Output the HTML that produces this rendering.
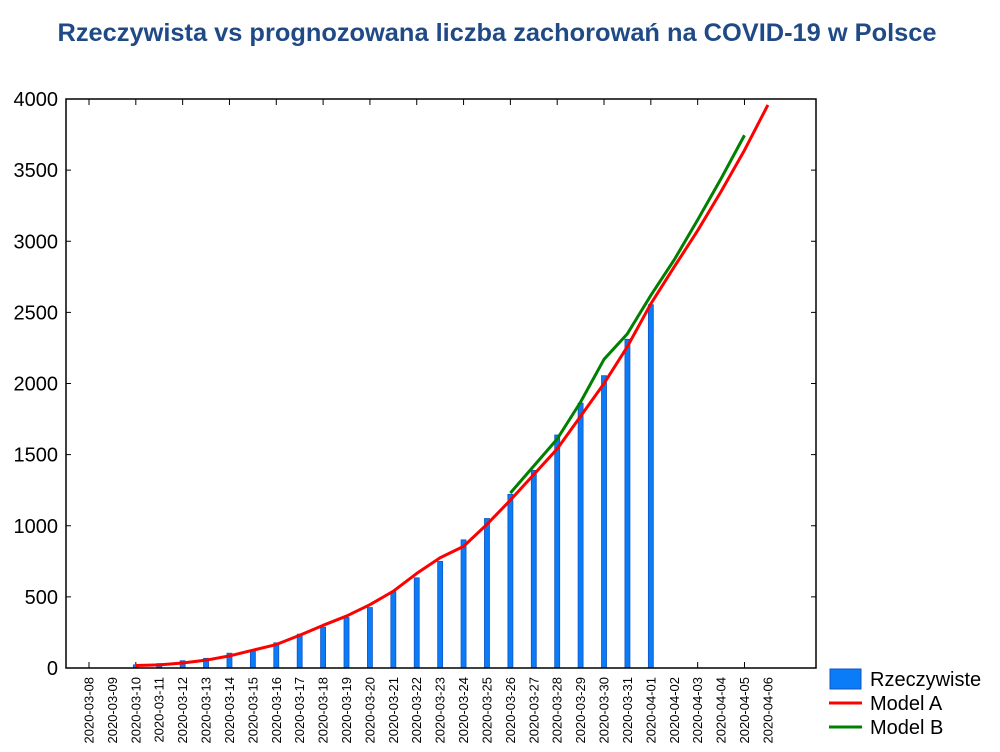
<!DOCTYPE html>
<html><head><meta charset="utf-8"><style>
html,body{margin:0;padding:0;background:#fff;}
svg{display:block;font-family:"Liberation Sans",Arial,sans-serif;}
</style></head><body>
<svg width="1000" height="752" viewBox="0 0 1000 752" xmlns="http://www.w3.org/2000/svg">
<text x="497" y="41" text-anchor="middle" font-size="25" font-weight="bold" fill="#1f4a85" textLength="879" lengthAdjust="spacingAndGlyphs">Rzeczywista vs prognozowana liczba zachorowań na COVID-19 w Polsce</text>
<g id="g"></g>
<rect x="66" y="99" width="750" height="569" fill="none" stroke="#000" stroke-width="1.5"/>
<rect x="830" y="669" width="31" height="20" fill="#0a7cf8" stroke="#1255c0"/>
<text x="870" y="686" font-size="20">Rzeczywiste</text>
<line x1="829" y1="703" x2="862" y2="703" stroke="#f00" stroke-width="3"/>
<text x="870" y="710" font-size="20">Model A</text>
<line x1="829" y1="727" x2="862" y2="727" stroke="#008000" stroke-width="3"/>
<text x="870" y="734" font-size="20">Model B</text>
</svg>
<script>
const g=document.getElementById('g');let s='';
const X=i=>89+i*23.41, Y=v=>668-v*0.14225;
for(let v=0;v<=4000;v+=500){const y=Y(v);s+=`<text x="58" y="${y+7}" text-anchor="end" font-size="20">${v}</text>`;
s+=`<line x1="66" y1="${y}" x2="71" y2="${y}" stroke="#000"/><line x1="811" y1="${y}" x2="816" y2="${y}" stroke="#000"/>`;}
const labels=[];for(let d=8;d<=31;d++)labels.push('2020-03-'+String(d).padStart(2,'0'));for(let d=1;d<=6;d++)labels.push('2020-04-0'+d);
labels.forEach((l,i)=>{const x=X(i);s+=`<text transform="translate(${x+4.5},${677}) rotate(-90)" text-anchor="end" font-size="13">${l}</text>`;
if(i%2==0)s+=`<line x1="${x}" y1="668" x2="${x}" y2="662" stroke="#000"/><line x1="${x}" y1="99" x2="${x}" y2="105" stroke="#000"/>`;});
const bars=[22,31,51,68,104,125,177,238,287,355,425,536,634,749,901,1051,1221,1389,1638,1862,2055,2311,2554];
bars.forEach((v,k)=>{const x=X(k+2);s+=`<rect x="${x-2.5}" y="${Y(v)}" width="5" height="${668-Y(v)}" fill="#0a7cf8" stroke="#1255c0" stroke-width="0.8"/>`;});
const A=[18,22,35,55,85,125,165,230,300,365,445,540,665,775,855,1010,1180,1360,1540,1770,2000,2260,2560,2820,3075,3350,3640,3958];
s+=`<polyline fill="none" stroke="#f00" stroke-width="3" stroke-linejoin="round" points="${A.map((v,k)=>X(k+2)+','+Y(v)).join(' ')}"/>`;
const B=[1230,1420,1610,1870,2170,2350,2620,2870,3150,3440,3745];
s+=`<polyline fill="none" stroke="#008000" stroke-width="3" stroke-linejoin="round" points="${B.map((v,k)=>X(k+18)+','+Y(v)).join(' ')}"/>`;
g.innerHTML=s;
</script>
</body></html>
